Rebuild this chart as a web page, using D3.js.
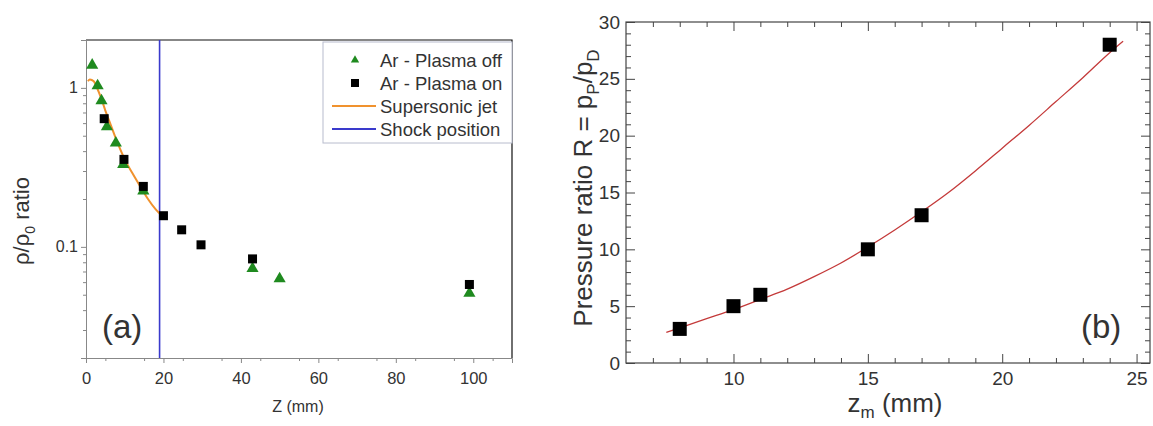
<!DOCTYPE html>
<html lang="en">
<head>
    <meta charset="UTF-8">
    <title>Density and pressure ratio</title>
    <script src="https://d3js.org/d3.v7.min.js"></script>
    <style>
        body { margin: 0; background: #fff; }
        text { font-family: 'Liberation Sans', Arial, sans-serif; fill: #333; }
    </style>
</head>
<body>
<script>
    // (a) density ratio vs Z
    const offZ   = [1.6, 3.0, 4.0, 5.4, 7.7, 9.6, 14.8, 43, 50, 99];
    const offRho = [1.39, 1.03, 0.83, 0.57, 0.45, 0.33, 0.225, 0.073, 0.063, 0.051];
    const onZ    = [4.7, 9.8, 14.8, 20, 24.7, 29.7, 43, 99];
    const onRho  = [0.64, 0.355, 0.24, 0.157, 0.128, 0.103, 0.084, 0.058];
    const jetZ   = [0.5, 1, 2, 3, 4, 5, 6, 8, 10, 12, 14, 16, 18, 19];
    const jetRho = [1.1, 1.13, 1.1, 0.98, 0.85, 0.72, 0.62, 0.46, 0.355, 0.29, 0.24, 0.2, 0.172, 0.162];
    const shockZ = 19;
    const legendLabels = ['Ar - Plasma off', 'Ar - Plasma on', 'Supersonic jet', 'Shock position'];

    // (b) pressure ratio vs z_m
    const zm    = [8, 10, 11, 15, 17, 24];
    const ratio = [3, 5, 6, 10, 13, 28];
    const fitZ  = [7.5, 8, 9, 10, 11, 12, 13, 14, 15, 16, 17, 18, 19, 20, 21, 22, 23, 24, 24.5];
    const fitR  = [2.7, 3.1, 3.9, 4.7, 5.6, 6.5, 7.6, 8.8, 10.2, 11.7, 13.3, 15.0, 16.9, 18.9, 20.9, 23.0, 25.1, 27.3, 28.3];

    const svg = d3.select("body").append("svg")
            .attr("width", 1153)
            .attr("height", 426);

    // ---------- panel (a) ----------
    const ax = {left: 86, right: 512, top: 40, bottom: 358};
    const xa = d3.scaleLinear().domain([0, 110]).range([ax.left, ax.right]);
    const ya = d3.scaleLog().domain([0.02, 2]).range([ax.bottom, ax.top]);

    const pa = svg.append("g");

    // frame: top and right in black
    pa.append("path")
        .attr("d", `M${ax.left},${ax.top}H${ax.right}V${ax.bottom}`)
        .attr("fill", "none").attr("stroke", "#111").attr("stroke-width", 1.2);

    const yaMinor = ya.ticks().filter(v => ![0.1, 1].includes(+v.toFixed(3)));
    pa.append("g").attr("transform", `translate(${ax.left},0)`)
        .call(d3.axisLeft(ya).tickValues(yaMinor).tickSize(3).tickFormat(""))
        .call(g => g.select(".domain").remove());
    pa.append("g").attr("transform", `translate(${ax.left},0)`)
        .call(d3.axisLeft(ya).tickValues([0.1, 1]).tickSize(5).tickFormat(d3.format("")))
        .call(g => g.selectAll("text").attr("font-size", 16));

    pa.append("g").attr("transform", `translate(0,${ax.bottom})`)
        .call(d3.axisBottom(xa).tickValues(d3.range(5, 111, 10)).tickSize(3).tickFormat(""))
        .call(g => g.select(".domain").remove());
    pa.append("g").attr("transform", `translate(0,${ax.bottom})`)
        .call(d3.axisBottom(xa).tickValues(d3.range(0, 101, 20)).tickSize(5).tickPadding(9))
        .call(g => g.selectAll("text").attr("font-size", 16.5));

    pa.selectAll(".domain, .tick line").attr("stroke", "#888");

    pa.append("text")
        .attr("x", 298).attr("y", 412)
        .attr("text-anchor", "middle").attr("font-size", 16)
        .text("Z (mm)");

    const ylab = pa.append("text")
        .attr("transform", "translate(29,221) rotate(-90)")
        .attr("text-anchor", "middle").attr("font-size", 22);
    ylab.append("tspan").text("ρ/ρ");
    ylab.append("tspan").attr("font-size", 14).attr("dy", 6).text("0");
    ylab.append("tspan").attr("dy", -6).text(" ratio");

    pa.append("text")
        .attr("x", 102).attr("y", 338).attr("font-size", 33).attr("fill", "#222")
        .text("(a)");

    // shock line
    pa.append("line")
        .attr("x1", xa(shockZ)).attr("x2", xa(shockZ))
        .attr("y1", ax.top).attr("y2", ax.bottom)
        .attr("stroke", "#3a3acc").attr("stroke-width", 1.6);

    // supersonic jet curve
    pa.append("path")
        .datum(d3.zip(jetZ, jetRho))
        .attr("fill", "none").attr("stroke", "#f0922e").attr("stroke-width", 2)
        .attr("d", d3.line().x(d => xa(d[0])).y(d => ya(d[1])).curve(d3.curveMonotoneX));

    const tri = d3.symbol().type(d3.symbolTriangle).size(64);
    pa.selectAll(".off").data(d3.zip(offZ, offRho)).enter()
        .append("path").attr("class", "off")
        .attr("d", tri)
        .attr("transform", d => `translate(${xa(d[0])},${ya(d[1])})`)
        .attr("fill", "#1f8a1f");

    pa.selectAll(".on").data(d3.zip(onZ, onRho)).enter()
        .append("rect").attr("class", "on")
        .attr("x", d => xa(d[0]) - 4.5).attr("y", d => ya(d[1]) - 4.5)
        .attr("width", 9).attr("height", 9)
        .attr("fill", "#000");

    // legend
    const lg = pa.append("g");
    lg.append("rect")
        .attr("x", 323).attr("y", 42).attr("width", 189).attr("height", 101)
        .attr("fill", "#fff").attr("stroke", "#b8bccd");
    legendLabels.forEach((t, i) => {
        const cy = 60 + i * 23;
        if (i === 0) {
            lg.append("path").attr("d", d3.symbol().type(d3.symbolTriangle).size(30))
                .attr("transform", `translate(355,${cy})`).attr("fill", "#1f8a1f");
        } else if (i === 1) {
            lg.append("rect").attr("x", 351).attr("y", cy - 4).attr("width", 8).attr("height", 8).attr("fill", "#000");
        } else {
            lg.append("line").attr("x1", 332).attr("x2", 376).attr("y1", cy).attr("y2", cy)
                .attr("stroke", i === 2 ? "#f0922e" : "#3a3acc").attr("stroke-width", 1.8);
        }
        lg.append("text").attr("x", 380).attr("y", cy + 6.5)
            .attr("font-size", 18.5).attr("fill", "#222").text(t);
    });

    // ---------- panel (b) ----------
    const bx = {left: 626, right: 1150, top: 22, bottom: 363};
    const xb = d3.scaleLinear().domain([6, 25.5]).range([bx.left, bx.right]);
    const yb = d3.scaleLinear().domain([0, 30]).range([bx.bottom, bx.top]);

    const pb = svg.append("g");
    pb.append("rect")
        .attr("x", bx.left).attr("y", bx.top)
        .attr("width", bx.right - bx.left).attr("height", bx.bottom - bx.top)
        .attr("fill", "none").attr("stroke", "#444").attr("stroke-width", 1.2);

    const xMinor = d3.range(7, 26).filter(v => v % 5 !== 0);
    const xMajor = [10, 15, 20, 25];
    const yMinor = d3.range(1, 30).filter(v => v % 5 !== 0);
    const yMajor = d3.range(0, 31, 5);

    // inward ticks on all four sides
    pb.append("g").attr("transform", `translate(0,${bx.bottom})`)
        .call(d3.axisBottom(xb).tickValues(xMinor).tickSize(-5).tickFormat(""));
    pb.append("g").attr("transform", `translate(0,${bx.bottom})`)
        .call(d3.axisBottom(xb).tickValues(xMajor).tickSize(-9).tickPadding(9))
        .call(g => g.selectAll("text").attr("font-size", 19));
    pb.append("g").attr("transform", `translate(0,${bx.top})`)
        .call(d3.axisTop(xb).tickValues(xMinor).tickSize(-5).tickFormat(""));
    pb.append("g").attr("transform", `translate(0,${bx.top})`)
        .call(d3.axisTop(xb).tickValues(xMajor).tickSize(-9).tickFormat(""));

    pb.append("g").attr("transform", `translate(${bx.left},0)`)
        .call(d3.axisLeft(yb).tickValues(yMinor).tickSize(-5).tickFormat(""));
    pb.append("g").attr("transform", `translate(${bx.left},0)`)
        .call(d3.axisLeft(yb).tickValues(yMajor).tickSize(-9).tickPadding(6))
        .call(g => g.selectAll("text").attr("font-size", 19));
    pb.append("g").attr("transform", `translate(${bx.right},0)`)
        .call(d3.axisRight(yb).tickValues(yMinor).tickSize(-5).tickFormat(""));
    pb.append("g").attr("transform", `translate(${bx.right},0)`)
        .call(d3.axisRight(yb).tickValues(yMajor).tickSize(-9).tickFormat(""));

    pb.selectAll(".domain").remove();
    pb.selectAll(".tick line").attr("stroke", "#444");

    const xlab = pb.append("text")
        .attr("x", 895).attr("y", 412)
        .attr("text-anchor", "middle").attr("font-size", 26);
    xlab.append("tspan").text("z");
    xlab.append("tspan").attr("font-size", 17).attr("dy", 6).text("m");
    xlab.append("tspan").attr("dy", -6).text(" (mm)");

    const ylabB = pb.append("text")
        .attr("transform", "translate(592,188) rotate(-90)")
        .attr("text-anchor", "middle").attr("font-size", 26);
    ylabB.append("tspan").text("Pressure ratio R = p");
    ylabB.append("tspan").attr("font-size", 17).attr("dy", 7).text("P");
    ylabB.append("tspan").attr("dy", -7).text("/p");
    ylabB.append("tspan").attr("font-size", 17).attr("dy", 7).text("D");

    pb.append("text")
        .attr("x", 1081).attr("y", 338).attr("font-size", 33).attr("fill", "#222")
        .text("(b)");

    pb.append("path")
        .datum(d3.zip(fitZ, fitR))
        .attr("fill", "none").attr("stroke", "#c43a3a").attr("stroke-width", 1.3)
        .attr("d", d3.line().x(d => xb(d[0])).y(d => yb(d[1])).curve(d3.curveMonotoneX));

    pb.selectAll(".pt").data(d3.zip(zm, ratio)).enter()
        .append("rect").attr("class", "pt")
        .attr("x", d => xb(d[0]) - 7).attr("y", d => yb(d[1]) - 7)
        .attr("width", 14).attr("height", 14)
        .attr("fill", "#000");
</script>
</body>
</html>
